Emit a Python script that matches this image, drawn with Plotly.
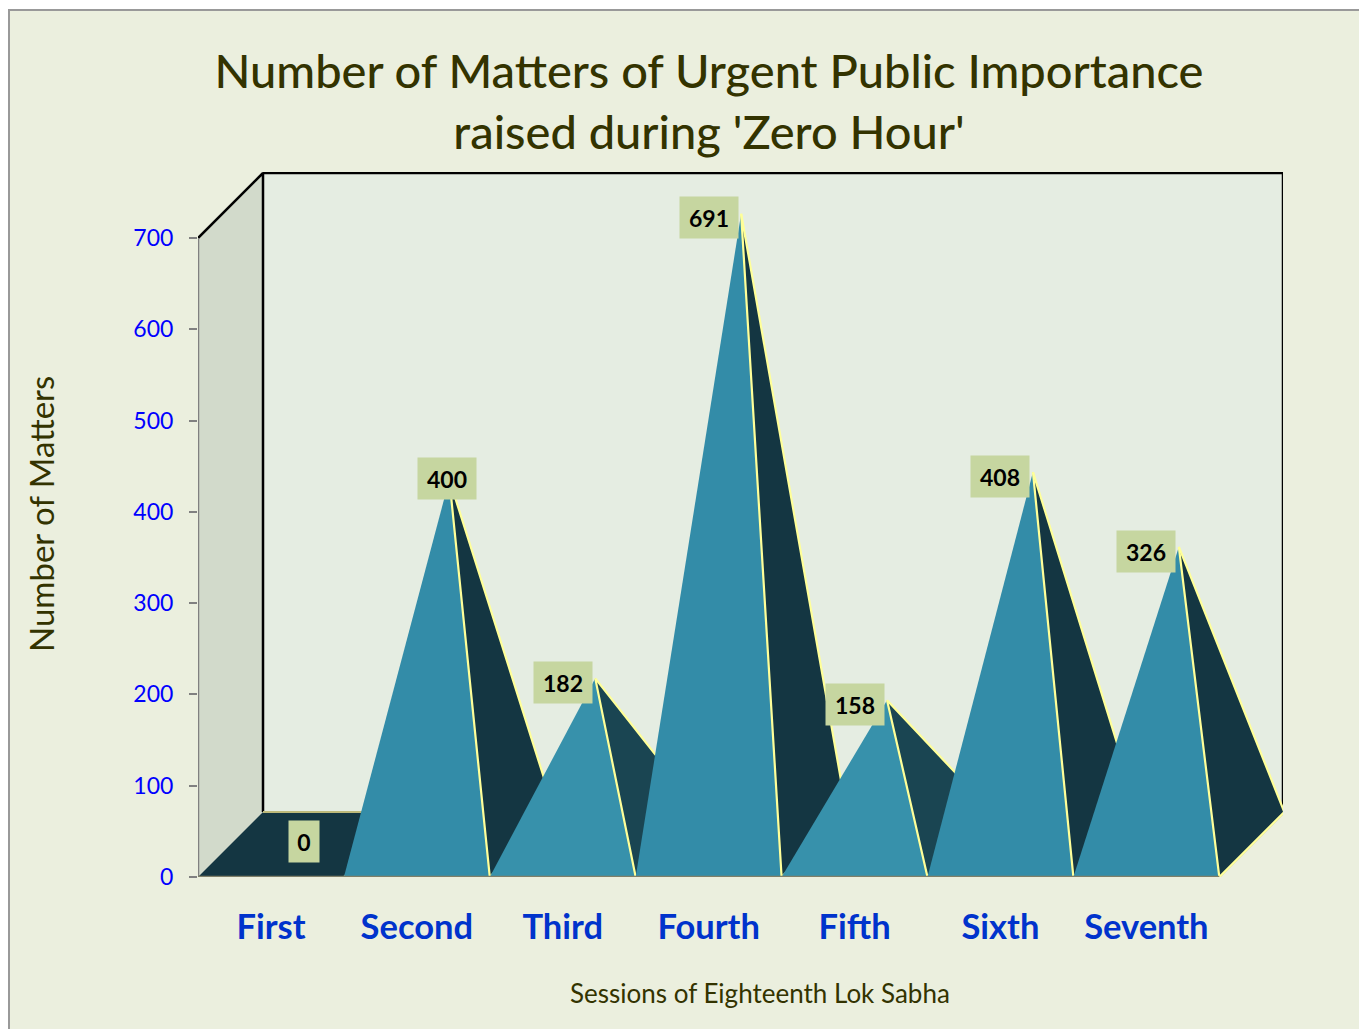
import plotly.graph_objects as go

categories = ["First", "Second", "Third", "Fourth", "Fifth", "Sixth", "Seventh"]
values = [0, 400, 182, 691, 158, 408, 326]
front_colors = ["#338ca8", "#338ca8", "#3791ab", "#338ca8", "#3791ab", "#338ca8", "#338ca8"]
side_colors = ["#143642", "#143642", "#1a4552", "#143642", "#1a4552", "#143642", "#143642"]
y_ticks = [0, 100, 200, 300, 400, 500, 600, 700]
label_shift_x = [33, 30, 0, 0, 0, 0, 0]
label_shift_y = [36, 33, 28, 29, 28, 28, 28]
label_width = [28, 56, 56, 56, 56, 56, 56]

title_text = "Number of Matters of Urgent Public Importance<br>raised during 'Zero Hour'"
x_title = "Sessions of Eighteenth Lok Sabha"
y_title = "Number of Matters"

W, H = 1359, 1029
L, R, T, B = 198, 1283, 172, 877
CAT_PX = 145.9
VAL_PX = 639 / 700
DEPTH_PX = 65
dx = DEPTH_PX / CAT_PX
dy = DEPTH_PX / VAL_PX
x0 = -0.5
x1 = 6.5
xmax = x0 + (R - L) / CAT_PX
ymax = (B - T) / VAL_PX
vmax = 700

YELLOW = "#ffff99"
DARK_TEXT = "#333300"


def px(xp):
    return (xp - L) / (R - L)


def py(yp):
    return (B - yp) / (B - T)


def poly(xs, ys, fill, line=YELLOW, width=2.2):
    return go.Scatter(x=xs, y=ys, mode="lines", fill="toself", fillcolor=fill,
                      line=dict(color=line, width=width), hoverinfo="skip",
                      showlegend=False, cliponaxis=False)


def seg(xs, ys, color, width):
    return go.Scatter(x=xs, y=ys, mode="lines", line=dict(color=color, width=width),
                      hoverinfo="skip", showlegend=False, cliponaxis=False)


fig = go.Figure()

# Walls of the 3-D box
fig.add_trace(poly([x0 + dx, xmax, xmax, x0 + dx], [ymax, ymax, dy, dy], "#e5ede2", "rgba(0,0,0,0)", 0))
fig.add_trace(poly([x0, x0 + dx, x0 + dx, x0], [vmax, vmax + dy, dy, 0], "#d2dacb", "rgba(0,0,0,0)", 0))
fig.add_trace(seg([x0, x0 + dx, x0 + dx], [vmax, vmax + dy, dy], "#000000", 2.5))
fig.add_trace(seg([x0 + dx, xmax, xmax], [vmax + dy, vmax + dy, dy], "#000000", 2.5))
fig.add_trace(seg([x0, x0], [0, vmax], "#808080", 2.5))

# Pyramids, left to right
for i, v in enumerate(values):
    left, right = i - 0.5, i + 0.5
    ax, ay = i + dx / 2, v + dy / 2
    fig.add_trace(poly([left, right, right + dx, left + dx], [0, 0, dy, dy], side_colors[i], "#bdb97a", 2))
    if v > 0:
        fig.add_trace(poly([right, right + dx, ax], [0, dy, ay], side_colors[i]))
        fig.add_trace(poly([left, right, ax], [0, 0, ay], front_colors[i]))

fig.add_trace(seg([x0, x1], [0, 0], "#7f7f68", 2.5))

annotations = []
for i, v in enumerate(values):
    annotations.append(dict(x=i, y=v, xref="x", yref="y", text=f"<b>{v}</b>", showarrow=False,
                            xshift=label_shift_x[i], yshift=label_shift_y[i],
                            width=label_width[i], height=39, bgcolor="#c6d6a0",
                            font=dict(family="Lato", size=23, color="#000000")))
annotations.append(dict(x=px(760), y=py(993), xref="paper", yref="paper", text=x_title,
                        xanchor="center", yanchor="middle", showarrow=False,
                        font=dict(family="Lato", size=26, color=DARK_TEXT)))
annotations.append(dict(x=px(41), y=py(514), xref="paper", yref="paper", text=y_title, textangle=-90,
                        xanchor="center", yanchor="middle", showarrow=False,
                        font=dict(family="Lato", size=33, color=DARK_TEXT)))

fig.update_layout(
    width=W, height=H, autosize=False,
    margin=dict(l=L, r=W - R, t=T, b=H - B),
    paper_bgcolor="#ffffff", plot_bgcolor="rgba(0,0,0,0)",
    showlegend=False,
    title=dict(text=title_text, x=709 / W, xanchor="center", y=1 - 88 / H, yanchor="top",
               font=dict(family="Lato", size=47, color=DARK_TEXT, weight=500)),
    xaxis=dict(range=[x0, xmax], tickmode="array", tickvals=list(range(len(categories))),
               ticktext=categories, showgrid=False, zeroline=False, showline=False, ticks="",
               ticklabelstandoff=26,
               tickfont=dict(family="Lato", size=34.5, color="#0033cc", weight=700)),
    yaxis=dict(range=[0, ymax], tickmode="array", tickvals=y_ticks, showgrid=False, zeroline=False,
               showline=False, ticks="outside", ticklen=8, tickcolor="#808080", tickwidth=2,
               ticklabelstandoff=11,
               tickfont=dict(family="Lato", size=23, color="#0000ff")),
    annotations=annotations,
    shapes=[dict(type="rect", xref="paper", yref="paper", layer="below",
                 x0=px(9), x1=px(W + 10), y0=py(H + 10), y1=py(10),
                 fillcolor="#ebefde", line=dict(color="#999999", width=2))],
)

fig.write_html("out.html", config={"displayModeBar": False},
               post_script="document.body.style.margin='0';document.body.style.overflow='hidden';")
